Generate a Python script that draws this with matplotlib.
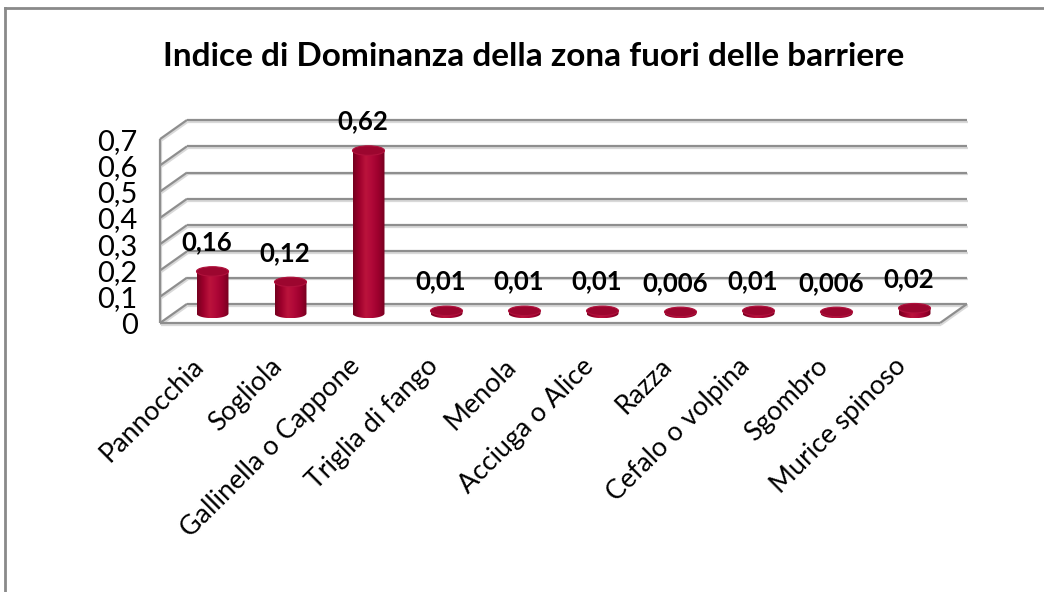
import numpy as np
import matplotlib
matplotlib.use("Agg")
import matplotlib.pyplot as plt
from matplotlib.patches import Ellipse, PathPatch
from matplotlib.path import Path
from matplotlib.colors import LinearSegmentedColormap
from matplotlib.lines import Line2D
from matplotlib.transforms import offset_copy

# ---- data ----
species = ["Pannocchia", "Sogliola", "Gallinella o Cappone", "Triglia di fango",
           "Menola", "Acciuga o Alice", "Razza", "Cefalo o volpina",
           "Sgombro", "Murice spinoso"]
dominance = [0.16, 0.12, 0.62, 0.01, 0.01, 0.01, 0.006, 0.01, 0.006, 0.02]
value_labels = ["0,16", "0,12", "0,62", "0,01", "0,01", "0,01", "0,006", "0,01", "0,006", "0,02"]
y_ticks = [0, 0.1, 0.2, 0.3, 0.4, 0.5, 0.6, 0.7]
y_tick_labels = ["0", "0,1", "0,2", "0,3", "0,4", "0,5", "0,6", "0,7"]
title = "Indice di Dominanza della zona fuori delle barriere"

FONT = ["Lato", "DejaVu Sans"]
plt.rcParams["font.family"] = FONT

W, H = 1044, 592
fig = plt.figure(figsize=(W / 100, H / 100), dpi=100)
fig.patch.set_facecolor("white")

# pseudo-3D geometry (depth offset in data units)
DX = 0.346
DY = 0.0727
YMAX = y_ticks[-1]
n = len(species)
x0, x1 = -0.5, n - 0.5

# axes rectangle in pixels: front-left corner at (160, 323), back-top at (967, 120)
left_px, right_px, bottom_px, top_px = 160, 967, 323, 120
ax = fig.add_axes([left_px / W, 1 - bottom_px / H,
                   (right_px - left_px) / W, (bottom_px - top_px) / H])
ax.set_facecolor("none")
for s in ax.spines.values():
    s.set_visible(False)

grid_c = "#8e8e8e"
shade_c = "#d9d9d9"
shadow = offset_copy(ax.transData, fig=fig, x=0.8, y=-1.8, units="dots")


def wall_line(xs, ys, lw=1.6):
    ax.plot(xs, ys, color=shade_c, lw=lw, transform=shadow, clip_on=False,
            zorder=1, solid_capstyle="butt")
    ax.plot(xs, ys, color=grid_c, lw=lw, clip_on=False, zorder=2,
            solid_capstyle="butt")


# back wall gridlines and left side wall diagonals
for v in y_ticks:
    wall_line([x0 + DX, x1 + DX], [v + DY, v + DY])
    wall_line([x0, x0 + DX], [v, v + DY])
# left wall front edge
wall_line([x0, x0], [0, YMAX])
# floor front edge and right side
wall_line([x0, x1], [0, 0])
wall_line([x1, x1 + DX], [0, DY])

# cylinders
cmap = LinearSegmentedColormap.from_list(
    "cyl", ["#74001e", "#9e002c", "#bb143c", "#b00838", "#9c002d", "#760020"])
grad = np.linspace(0, 1, 256).reshape(1, -1)
bw = 0.41
eh = 0.036
for i, v in enumerate(dominance):
    cx = i + DX / 2
    yb = DY / 2
    yt = yb + v
    xl, xr = cx - bw / 2, cx + bw / 2
    t = np.linspace(np.pi, 2 * np.pi, 40)
    arc = np.column_stack([cx + bw / 2 * np.cos(t), yb + eh / 2 * np.sin(t)])
    verts = np.vstack([[[xl, yt]], arc, [[xr, yt]], [[xl, yt]]])
    codes = [Path.MOVETO] + [Path.LINETO] * (len(verts) - 2) + [Path.CLOSEPOLY]
    body = PathPatch(Path(verts, codes), facecolor="none", edgecolor="none",
                     transform=ax.transData)
    ax.add_patch(body)
    im = ax.imshow(grad, cmap=cmap, aspect="auto", interpolation="bicubic",
                   extent=(xl, xr, yb - eh / 2, yt), zorder=4, clip_on=True)
    im.set_clip_path(body)
    top = Ellipse((cx, yt), bw, eh, facecolor="#9c062f", edgecolor="#b0113c",
                  lw=0.8, zorder=5)
    ax.add_patch(top)
    ax.annotate(value_labels[i], (cx - 0.07, yt + eh / 2), xytext=(0, 9),
                textcoords="offset points", ha="center", va="bottom",
                fontsize=18.5, fontweight="bold", color="black", zorder=6)

ax.set_xlim(x0, x1 + DX)
ax.set_ylim(0, YMAX + DY)

ax.set_yticks(y_ticks)
ax.set_yticklabels(y_tick_labels, fontsize=21)
ax.tick_params(axis="y", length=0, pad=16)
ax.set_xticks([i - 0.1 for i in range(n)])
ax.set_xticklabels(species, rotation=45, ha="right", rotation_mode="anchor",
                   fontsize=19.3)
ax.tick_params(axis="x", length=0, pad=22)

fig.text(534 / W, 1 - 57 / H, title, ha="center", va="center",
         fontsize=24, fontweight="bold")

# chart frame (left and top edges)
fig.add_artist(Line2D([5 / W, 5 / W], [0, 1 - 8 / H], color="#8a8a8a", lw=2,
                      transform=fig.transFigure))
fig.add_artist(Line2D([5 / W, 1], [1 - 8 / H, 1 - 8 / H], color="#8a8a8a", lw=2,
                      transform=fig.transFigure))

fig.savefig("out.png", dpi=100, facecolor="white")
